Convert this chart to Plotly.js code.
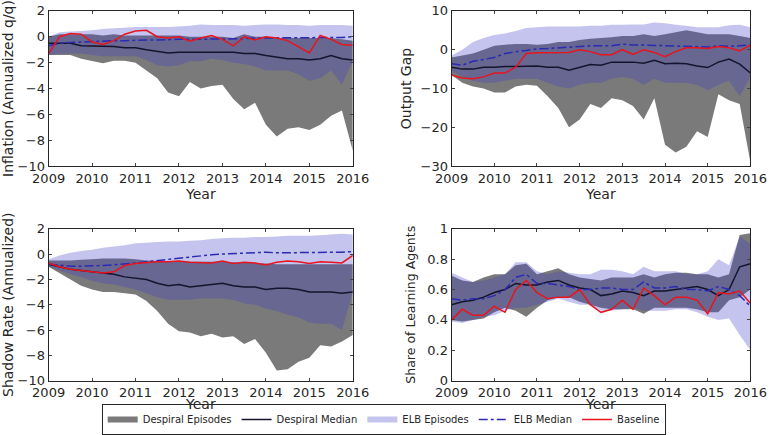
<!DOCTYPE html>
<html>
<head>
<meta charset="utf-8">
<script src="https://cdn.plot.ly/plotly-3.0.1.min.js"></script>
<style>body{margin:0}#chart{width:772px;height:435px}</style>
</head>
<body>
<div id="chart"></div>
<script>
// quarters 2009..2016
const quarters = [2009,2009.25,2009.5,2009.75,2010,2010.25,2010.5,2010.75,2011,2011.25,2011.5,2011.75,2012,2012.25,2012.5,2012.75,2013,2013.25,2013.5,2013.75,2014,2014.25,2014.5,2014.75,2015,2015.25,2015.5,2015.75,2016];

// Inflation
const inflDespHi = [0,0.2,0.2,0.2,0.2,0.1,0.2,0.1,0.1,0.1,0.1,0.1,0.1,0,0,0,0,-0.1,0.2,0,0,-0.1,-0.1,-0.1,-0.1,-0.1,-0.1,-0.2,-0.3];
const inflDespLo = [-1.4,-1.4,-1.4,-1.7,-1.9,-2.05,-1.85,-1.85,-2,-2.6,-3.2,-4.3,-4.6,-3.5,-4,-3.8,-3.7,-4.8,-5.6,-5.1,-6.8,-7.7,-7.1,-7,-7.2,-6.8,-6.1,-5.7,-8.8];
const inflDespMed = [-0.5,-0.5,-0.5,-0.7,-0.7,-0.75,-0.75,-0.85,-0.85,-1,-1.1,-1.25,-1.2,-1.2,-1.2,-1.2,-1.15,-1.2,-1.3,-1.3,-1.45,-1.55,-1.7,-1.7,-1.8,-1.7,-1.45,-1.7,-1.8];
const inflElbHi = [0,0.35,0.4,0.45,0.5,0.6,0.65,0.7,0.75,0.75,0.75,0.75,0.8,0.85,0.95,0.9,0.9,0.9,0.85,0.9,0.95,0.95,0.9,0.9,0.85,0.9,0.9,0.9,0.85];
const inflElbLo = [-1.4,-1.3,-1.3,-1.3,-1.4,-1.5,-1.5,-1.5,-1.5,-1.8,-2.2,-2.3,-2.2,-1.9,-1.9,-1.7,-1.8,-2,-2.1,-2.3,-2.6,-2.6,-2.6,-2.9,-3.4,-3.2,-2.6,-3.7,-1.9];
const inflElbMed = [-0.7,-0.5,-0.45,-0.4,-0.35,-0.35,-0.3,-0.3,-0.25,-0.25,-0.25,-0.2,-0.2,-0.2,-0.2,-0.2,-0.15,-0.15,-0.15,-0.1,-0.1,-0.1,-0.1,-0.1,-0.1,-0.1,-0.05,-0.05,0];
const inflBase = [-1.3,0,0.25,0.2,-0.4,-0.6,-0.3,0.2,0.45,0.5,0,-0.1,0,-0.35,-0.1,0.1,-0.2,-0.7,0,-0.25,0,-0.1,-0.3,-0.8,-1.25,0.1,-0.2,-0.6,-0.65];

// Output gap
const gapDespHi = [-2,-1.5,-1,0,1,1.3,1.5,1.5,1.3,1.5,2,2,2.5,2.8,3,3.2,3.5,3.5,4,3.5,4,4.5,5,4.5,4,4,4,3.5,3];
const gapDespLo = [-6.5,-8.5,-9.5,-10,-11,-11,-9.5,-9,-9.3,-12,-15,-20,-18,-14,-15,-12.5,-13,-14.5,-18,-12.5,-24.5,-26.5,-25,-21,-22.5,-11.5,-13,-14,-29];
const gapDespMed = [-4.5,-5,-5,-4.5,-4.5,-4.3,-4.3,-4.3,-4.2,-4.5,-4.5,-5.3,-4.5,-3.8,-4,-3.2,-3.2,-3.2,-3.5,-2.7,-3.6,-3.5,-3.6,-4.2,-4.6,-3.2,-2.4,-3.7,-6];
const gapElbHi = [-1.5,0,2,3,3.8,4.2,4.8,5.6,5.8,6,6,6,6,6.2,6.2,6.4,6.4,6.5,6.5,7,6.8,6.4,6.2,5.8,5.8,5.8,6.3,6.4,5.8];
const gapElbLo = [-5.5,-7,-8,-8.5,-8.5,-8,-7.5,-7.5,-7.5,-8.5,-9.5,-10,-9,-8.5,-8.5,-7.5,-7,-7.5,-9,-7.5,-8.5,-8.5,-8.5,-9,-10.5,-9,-8,-12,-7];
const gapElbMed = [-3.6,-4,-3,-2.5,-2,-1,-0.5,-0.2,0.2,0.3,0.5,0.7,0.8,1,1,1,1.4,1.2,1.2,1.1,1,1,0.9,0.8,0.7,1,0.9,1,1.2];
const gapBase = [-6.5,-7.3,-7.5,-7,-6,-6,-4.5,-1,-0.8,-0.8,-0.8,-0.7,0,-0.5,-1.3,-1.3,0,-1.2,0,-0.7,-1.8,-0.5,0.5,0.5,0.3,0.8,0.5,-0.3,1.2];

// Shadow rate
const rateDespHi = [-0.5,-0.5,-0.5,-0.45,-0.4,-0.35,-0.35,-0.35,-0.4,-0.5,-0.55,-0.6,-0.6,-0.6,-0.6,-0.6,-0.6,-0.65,-0.7,-0.7,-0.75,-0.8,-0.8,-0.8,-0.8,-0.8,-0.8,-0.8,-0.8];
const rateDespLo = [-1,-1.5,-2,-2.5,-2.8,-3,-3,-3.1,-3.2,-3.7,-4.5,-5.5,-6.1,-6.2,-6.5,-6.3,-6.6,-6.5,-7.1,-6.7,-7.8,-9.2,-9.1,-8.5,-8.2,-7.2,-7.3,-6.9,-6.4];
const rateDespMed = [-0.8,-1,-1.2,-1.3,-1.4,-1.5,-1.6,-1.8,-1.9,-2,-2.3,-2.5,-2.4,-2.6,-2.5,-2.4,-2.3,-2.5,-2.6,-2.6,-2.8,-2.7,-2.7,-2.8,-3,-3,-3,-3.1,-3];
const rateElbHi = [-0.4,-0.1,0.1,0.25,0.35,0.5,0.6,0.7,0.85,0.9,0.95,1,1,1.05,1.1,1.2,1.25,1.3,1.3,1.35,1.35,1.4,1.45,1.45,1.45,1.5,1.55,1.6,1.55];
const rateElbLo = [-1,-1.3,-1.6,-1.8,-2.1,-2.3,-2.4,-2.6,-2.8,-3.1,-3.4,-3.6,-3.6,-3.6,-3.5,-3.5,-3.5,-3.6,-3.9,-4,-4.3,-4.5,-4.8,-5,-5.4,-5.5,-5.5,-6,-3];
const rateElbMed = [-0.8,-0.9,-0.95,-0.95,-0.95,-0.9,-0.85,-0.8,-0.7,-0.6,-0.5,-0.4,-0.3,-0.2,-0.1,-0.05,0,0.05,0.1,0.1,0.15,0.1,0.1,0.1,0.1,0.1,0.15,0.15,0.2];
const rateBase = [-0.7,-1,-1.2,-1.3,-1.4,-1.5,-1.4,-0.9,-0.75,-0.65,-0.6,-0.6,-0.55,-0.65,-0.7,-0.7,-0.55,-0.75,-0.65,-0.7,-0.85,-0.65,-0.55,-0.6,-0.75,-0.6,-0.65,-0.7,-0.1];

// Share of learning agents
const shareDespHi = [0.69,0.66,0.65,0.68,0.7,0.7,0.76,0.77,0.7,0.72,0.74,0.7,0.68,0.67,0.66,0.68,0.68,0.68,0.7,0.68,0.7,0.71,0.71,0.7,0.7,0.68,0.7,0.96,0.97];
const shareDespLo = [0.4,0.39,0.4,0.41,0.45,0.48,0.46,0.42,0.48,0.53,0.55,0.55,0.52,0.5,0.48,0.47,0.47,0.47,0.44,0.48,0.48,0.48,0.48,0.47,0.45,0.45,0.53,0.55,0.6];
const shareDespMed = [0.5,0.52,0.53,0.55,0.58,0.6,0.64,0.63,0.63,0.65,0.66,0.63,0.61,0.6,0.56,0.57,0.59,0.58,0.56,0.59,0.59,0.6,0.61,0.62,0.6,0.56,0.6,0.75,0.77];
const shareElbHi = [0.71,0.68,0.65,0.66,0.68,0.7,0.78,0.78,0.72,0.7,0.72,0.71,0.7,0.7,0.73,0.73,0.72,0.7,0.75,0.72,0.72,0.72,0.7,0.7,0.72,0.8,0.76,0.95,0.9];
const shareElbLo = [0.39,0.38,0.4,0.42,0.43,0.46,0.48,0.48,0.5,0.52,0.54,0.52,0.5,0.5,0.46,0.46,0.47,0.48,0.46,0.46,0.46,0.47,0.47,0.45,0.42,0.4,0.41,0.3,0.2];
const shareElbMed = [0.54,0.53,0.54,0.54,0.56,0.6,0.68,0.7,0.64,0.64,0.63,0.62,0.6,0.6,0.61,0.61,0.6,0.6,0.65,0.61,0.61,0.62,0.6,0.6,0.59,0.62,0.6,0.56,0.49];
const shareBase = [0.4,0.47,0.43,0.43,0.49,0.45,0.6,0.66,0.58,0.54,0.55,0.55,0.6,0.5,0.45,0.47,0.53,0.47,0.61,0.56,0.5,0.55,0.55,0.53,0.44,0.58,0.57,0.59,0.51];

const panels = [
  {xa: "x", ya: "y", d: [inflDespLo, inflDespHi, inflDespMed, inflElbLo, inflElbHi, inflElbMed, inflBase]},
  {xa: "x2", ya: "y2", d: [gapDespLo, gapDespHi, gapDespMed, gapElbLo, gapElbHi, gapElbMed, gapBase]},
  {xa: "x3", ya: "y3", d: [rateDespLo, rateDespHi, rateDespMed, rateElbLo, rateElbHi, rateElbMed, rateBase]},
  {xa: "x4", ya: "y4", d: [shareDespLo, shareDespHi, shareDespMed, shareElbLo, shareElbHi, shareElbMed, shareBase]},
];

const traces = [];
panels.forEach((p, i) => {
  const leg = i === 0;
  const base = {x: quarters, xaxis: p.xa, yaxis: p.ya, hoverinfo: "skip"};
  traces.push({...base, y: p.d[0], mode: "lines", line: {width: 0}, showlegend: false});
  traces.push({...base, y: p.d[1], mode: "none", fill: "tonexty", fillcolor: "#7a7a7a",
    name: "Despiral Episodes", showlegend: leg, legendrank: 1});
  traces.push({...base, y: p.d[3], mode: "lines", line: {width: 0}, showlegend: false});
  traces.push({...base, y: p.d[4], mode: "none", fill: "tonexty", fillcolor: "rgba(60,60,200,0.3)",
    name: "ELB Episodes", showlegend: leg, legendrank: 3});
  traces.push({...base, y: p.d[2], mode: "lines", line: {color: "#14142e", width: 1.5},
    name: "Despiral Median", showlegend: leg, legendrank: 2});
  traces.push({...base, y: p.d[5], mode: "lines", line: {color: "#2a2ab4", width: 1.5, dash: "dashdot"},
    name: "ELB Median", showlegend: leg, legendrank: 4});
  traces.push({...base, y: p.d[6], mode: "lines", line: {color: "#e8141e", width: 1.5},
    name: "Baseline", showlegend: leg, legendrank: 5});
});

const font = {family: "DejaVu Sans, sans-serif", size: 13, color: "#262626"};
function xax(domain, anchor) {
  return {domain, anchor, range: [2009, 2016], dtick: 1, tick0: 2009, ticks: "inside", ticklen: 3,
    showline: true, mirror: "ticks", linecolor: "#262626", showgrid: false, zeroline: false,
    tickfont: {size: 13}};
}
function yax(domain, anchor, range, dtick, title, standoff, size) {
  return {domain, anchor, range, dtick, ticks: "inside", ticklen: 3,
    showline: true, mirror: "ticks", linecolor: "#262626", showgrid: false, zeroline: false,
    title: {text: title, standoff, font: {size}}, tickfont: {size: 13}};
}
function yearLabel(x, y) {
  return {text: "Year", xref: "paper", yref: "paper", x, y, xanchor: "center", yanchor: "middle",
    showarrow: false, font: {size: 14}};
}

const layout = {
  width: 772, height: 435, font,
  paper_bgcolor: "white", plot_bgcolor: "white",
  margin: {l: 0, r: 0, t: 0, b: 0},
  showlegend: true,
  xaxis: xax([0.063, 0.457], "y"),
  yaxis: yax([0.618, 0.975], "x", [-10, 2], 2, "Inflation (Annualized q/q)", 3, 14),
  xaxis2: xax([0.585, 0.972], "y2"),
  yaxis2: yax([0.618, 0.975], "x2", [-30, 10], 10, "Output Gap", 5, 14),
  xaxis3: xax([0.063, 0.457], "y3"),
  yaxis3: yax([0.125, 0.474], "x3", [-10, 2], 2, "Shadow Rate (Annualized)", 3, 14),
  xaxis4: xax([0.585, 0.972], "y4"),
  yaxis4: yax([0.125, 0.474], "x4", [0, 1], 0.2, "Share of Learning Agents", 8, 12.5),
  annotations: [
    yearLabel(0.26, 0.555), yearLabel(0.778, 0.555),
    yearLabel(0.26, 0.072), yearLabel(0.778, 0.072),
  ],
  legend: {orientation: "h", x: 0.497, xanchor: "center", y: 0, yanchor: "bottom",
    bordercolor: "#262626", borderwidth: 1, font: {size: 10}, traceorder: "normal",
    itemwidth: 30, tracegroupgap: 0},
};

Plotly.newPlot("chart", traces, layout, {displayModeBar: false, staticPlot: true});
</script>
</body>
</html>
